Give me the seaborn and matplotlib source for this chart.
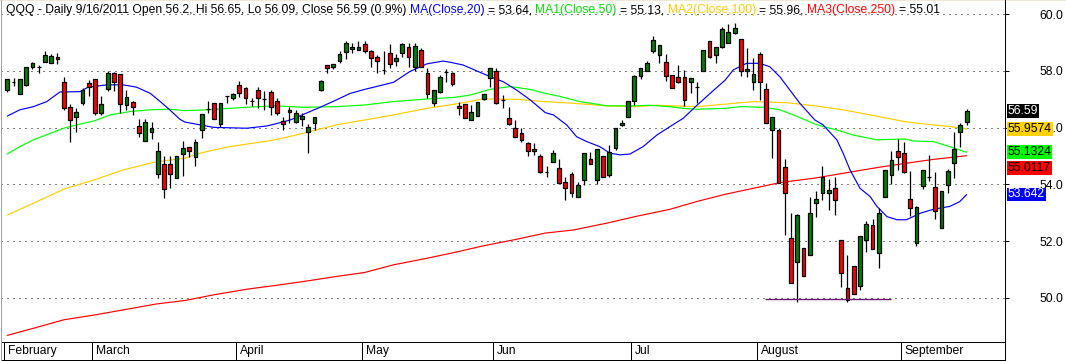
import numpy as np
import pandas as pd
import matplotlib
matplotlib.use("Agg")
import matplotlib.pyplot as plt
import matplotlib.transforms as mtransforms
from matplotlib.lines import Line2D
from matplotlib.patches import Rectangle
from matplotlib.font_manager import FontProperties
import seaborn as sns

# ---------------- data ----------------
opens = [57.33, 57.60, 57.20, 57.50, 58.13, 58.13, 58.33, 58.27, 58.51, 57.60,
         56.72, 56.37, 56.86, 57.56, 57.71, 56.51, 57.35, 57.92, 57.90, 56.79,
         56.90, 56.07, 55.52, 55.86, 54.37, 54.72, 54.72, 54.22, 55.06, 55.33,
         54.96, 55.92, 56.65, 56.86, 56.13, 57.13, 57.04, 57.51, 57.39, 56.94,
         57.33, 57.01, 57.25, 56.94, 56.25, 56.54, 56.21, 56.31, 55.84, 56.16,
         57.33, 58.21, 58.13, 58.36, 58.68, 58.78, 58.74, 58.95, 58.71, 58.48,
         58.04, 58.62, 58.35, 58.62, 58.86, 58.15, 58.74, 57.92, 56.86, 57.25,
         57.98, 57.92, 56.77, 56.84, 56.27, 56.41, 57.01, 57.74, 58.00, 56.98,
         56.33, 55.98, 55.80, 55.45, 55.16, 55.00, 54.43, 54.80, 54.57, 54.10,
         54.36, 53.55, 54.16, 54.89, 54.16, 55.00, 54.33, 55.27, 56.08, 56.39,
         56.95, 57.84, 58.01, 58.72, 58.57, 58.33, 57.86, 57.80, 57.78, 57.60,
         57.43, 58.00, 59.04, 58.56, 58.86, 59.00, 59.33, 59.12, 58.00, 57.60,
         58.59, 57.35, 55.90, 55.92, 54.62, 52.10, 51.25, 51.75, 51.49, 53.33,
         53.69, 53.71, 53.86, 52.04, 50.34, 51.13, 50.43, 52.02, 52.55, 51.57,
         53.55, 54.33, 55.19, 55.10, 53.47, 51.92, 53.94, 54.27, 53.90, 52.47,
         53.98, 54.74, 55.86, 56.20]
highs = [57.71, 57.74, 57.71, 58.13, 58.33, 58.20, 58.71, 58.59, 58.65, 57.78,
         56.82, 56.68, 57.39, 57.68, 57.71, 57.13, 58.00, 57.98, 57.90, 57.33,
         56.95, 56.30, 56.30, 56.21, 55.48, 55.00, 55.00, 55.00, 55.53, 55.33,
         55.59, 56.47, 56.94, 56.86, 56.86, 57.13, 57.24, 57.66, 57.45, 57.06,
         57.42, 57.30, 57.33, 57.04, 56.37, 56.72, 56.63, 56.53, 56.13, 56.37,
         57.68, 58.21, 58.25, 58.72, 59.04, 59.00, 59.04, 59.06, 58.74, 58.57,
         58.71, 58.94, 58.60, 59.00, 59.00, 59.00, 58.80, 58.10, 57.33, 57.86,
         58.06, 57.98, 56.92, 56.84, 56.80, 56.90, 57.18, 58.12, 58.10, 57.16,
         56.72, 56.27, 55.98, 55.51, 55.47, 55.06, 54.63, 55.21, 54.89, 54.27,
         54.45, 54.10, 55.12, 55.15, 55.24, 55.00, 55.39, 55.98, 56.27, 56.94,
         57.86, 58.10, 58.35, 59.25, 58.92, 58.59, 57.86, 58.21, 58.04, 57.74,
         57.62, 58.74, 59.04, 58.86, 59.56, 59.66, 59.68, 59.12, 58.80, 58.45,
         58.68, 57.59, 56.38, 55.98, 54.89, 52.98, 52.95, 51.75, 53.57, 53.76,
         54.63, 54.20, 54.27, 52.04, 51.51, 51.13, 52.16, 52.71, 52.77, 53.16,
         54.49, 55.18, 55.59, 55.48, 54.47, 53.22, 54.52, 55.04, 54.43, 53.77,
         54.54, 55.84, 56.16, 56.65]
lows = [57.27, 57.47, 57.20, 57.47, 58.07, 57.94, 58.33, 58.27, 58.24, 56.62,
        55.48, 55.86, 56.80, 57.13, 56.45, 56.45, 57.30, 57.30, 56.50, 56.62,
        56.45, 55.66, 55.52, 55.59, 54.22, 53.51, 53.86, 54.22, 54.31, 54.98,
        54.63, 55.63, 56.53, 56.30, 56.04, 56.88, 56.99, 57.09, 56.84, 56.77,
        56.70, 56.63, 56.43, 56.43, 55.92, 56.18, 56.15, 56.07, 55.12, 55.90,
        57.30, 57.94, 58.06, 58.27, 58.44, 58.62, 58.74, 58.62, 58.13, 57.92,
        57.90, 58.10, 58.18, 58.50, 58.15, 58.00, 58.15, 57.06, 56.77, 57.21,
        57.62, 57.47, 56.45, 56.33, 56.27, 56.41, 56.98, 57.45, 56.84, 56.68,
        56.09, 55.68, 55.51, 55.01, 55.04, 54.39, 54.25, 54.78, 54.06, 53.45,
        53.55, 53.55, 53.98, 54.72, 54.00, 54.27, 54.25, 55.21, 56.06, 56.39,
        56.80, 57.72, 58.01, 58.62, 58.29, 57.66, 57.39, 57.57, 56.77, 57.24,
        56.88, 58.00, 58.45, 58.27, 58.80, 58.98, 59.29, 57.84, 57.80, 57.33,
        56.97, 56.15, 54.92, 54.06, 52.22, 50.51, 49.86, 50.75, 51.49, 52.85,
        53.45, 53.10, 52.92, 50.39, 49.86, 50.12, 50.28, 51.63, 51.71, 51.06,
        53.55, 54.00, 54.51, 54.39, 52.89, 51.84, 53.83, 54.13, 52.77, 52.47,
        53.71, 54.24, 55.30, 56.09]
closes = [57.71, 57.60, 57.71, 58.13, 58.29, 58.13, 58.57, 58.53, 58.41, 56.70,
          56.27, 56.54, 57.33, 57.45, 56.51, 56.82, 57.94, 57.62, 56.84, 57.09,
          56.72, 55.82, 56.19, 55.98, 55.16, 53.83, 54.36, 55.00, 55.27, 55.16,
          55.48, 56.47, 56.65, 56.30, 56.86, 57.13, 57.18, 57.21, 57.04, 56.94,
          57.04, 57.01, 56.72, 56.51, 56.12, 56.63, 56.51, 56.42, 56.01, 56.37,
          57.65, 58.10, 58.25, 58.60, 58.98, 58.86, 58.84, 58.72, 58.45, 58.35,
          58.04, 58.24, 58.45, 58.94, 58.50, 58.88, 58.15, 57.18, 57.33, 57.80,
          57.98, 57.53, 56.68, 56.33, 56.54, 56.90, 57.18, 58.12, 56.86, 56.98,
          56.13, 55.68, 55.57, 55.16, 55.24, 54.42, 54.43, 55.09, 54.06, 53.86,
          53.69, 53.98, 55.12, 54.72, 55.24, 54.27, 55.13, 55.98, 56.18, 56.94,
          57.82, 58.10, 58.29, 59.09, 58.92, 57.84, 57.39, 57.62, 56.98, 57.74,
          57.43, 58.74, 58.48, 58.86, 59.47, 59.36, 59.51, 58.00, 58.07, 57.90,
          57.60, 56.15, 56.37, 54.06, 53.71, 50.51, 52.92, 50.75, 52.98, 53.47,
          54.25, 53.80, 53.45, 50.86, 49.92, 50.12, 52.16, 52.59, 51.71, 53.00,
          54.49, 54.86, 54.96, 54.45, 53.16, 53.20, 54.52, 54.27, 53.07, 53.77,
          54.47, 55.24, 56.09, 56.59]

holidays = ["2011-02-21", "2011-04-22", "2011-05-30", "2011-07-04", "2011-09-05"]
first_day, last_day = "2011-02-08", "2011-09-16"
month_labels = {2: "February", 3: "March", 4: "April", 5: "May", 6: "Jun",
                7: "Jul", 8: "August", 9: "September"}

# moving averages (candle index, value)
ma20_idx = [0, 2.0, 4.15, 6.3, 8.4, 11.6, 12.9, 15.9, 18.5, 20.6, 22.8, 24.4, 25.9, 27.5, 28.3,
            30.7, 32.9, 38.2, 41.4, 42.7, 45.1, 49.9, 52.5, 54.7, 57.0, 59.4, 61.6, 64.2, 66.9,
            69.5, 70.6, 72.7, 74.9, 77.0, 79.1, 81.2, 83.4, 85.8, 87.1, 89.2, 90.8, 92.4, 94.5,
            96.1, 97.7, 99.3, 101.4, 103.6, 105.7, 107.8, 109.9, 112.1, 114.5, 115.8, 117.9,
            120.0, 121.6, 123.2, 124.8, 126.4, 128.8, 130.1, 132.3, 133.3, 134.4, 136.0, 137.6,
            138.7, 140.3, 141.9, 143.4, 145.6, 147.7, 150.3, 151.9, 153.0]
ma20_val = [56.41, 56.63, 56.74, 56.92, 57.26, 57.27, 57.43, 57.51, 57.51, 57.43, 57.21, 56.92,
            56.63, 56.30, 56.20, 56.10, 56.01, 55.98, 56.06, 56.13, 56.27, 56.72, 56.98, 57.21,
            57.35, 57.48, 57.60, 57.98, 58.25, 58.35, 58.31, 58.21, 58.00, 57.80, 57.62, 57.33,
            56.98, 56.53, 56.45, 56.10, 55.68, 55.51, 55.33, 55.10, 55.04, 55.07, 55.33, 55.74,
            56.04, 56.33, 56.77, 57.21, 57.68, 58.04, 58.27, 58.27, 58.15, 57.80, 57.33, 56.86,
            56.27, 56.10, 55.57, 55.10, 54.51, 53.86, 53.57, 53.22, 52.86, 52.75, 52.75, 52.98,
            53.12, 53.22, 53.39, 53.64]
ma50_idx = [0, 2.0, 4.15, 6.9, 9.0, 11.7, 13.9, 16.4, 19.6, 22.8, 25.9, 28.3, 31.8, 35.5, 38.2,
            42.7, 47.2, 52.5, 57.0, 61.6, 66.9, 71.4, 73.8, 77.0, 80.2, 83.4, 85.8, 88.2, 91.3,
            95.6, 100.1, 102.5, 105.7, 107.8, 109.9, 114.5, 116.9, 120.6, 123.2, 125.4, 128.8,
            130.1, 132.3, 134.9, 138.7, 143.2, 144.5, 147.7, 150.3, 153.0]
ma50_val = [55.07, 55.33, 55.57, 55.80, 55.98, 56.13, 56.24, 56.45, 56.57, 56.63, 56.65, 56.60,
            56.63, 56.68, 56.72, 56.77, 56.72, 56.74, 56.80, 56.92, 57.01, 57.07, 57.15, 57.35,
            57.45, 57.35, 57.21, 57.10, 56.92, 56.77, 56.77, 56.79, 56.74, 56.68, 56.65, 56.68,
            56.74, 56.72, 56.63, 56.45, 56.13, 56.04, 55.92, 55.74, 55.57, 55.60, 55.53, 55.51,
            55.33, 55.13]
ma100_idx = [0, 4.15, 9.0, 13.9, 18.5, 23.8, 28.3, 30.7, 35.5, 42.7, 47.2, 52.5, 57.0, 61.6,
             66.9, 71.4, 75.9, 81.2, 85.8, 90.3, 95.6, 100.1, 103.6, 109.9, 114.5, 119.0, 124.3,
             128.8, 133.3, 137.6, 143.2, 145.0, 150.3, 153.0]
ma100_val = [52.92, 53.33, 53.83, 54.16, 54.51, 54.80, 54.92, 55.10, 55.33, 55.57, 55.80, 56.10,
             56.27, 56.45, 56.68, 56.83, 57.01, 57.00, 56.92, 56.86, 56.77, 56.74, 56.79, 56.74,
             56.83, 56.92, 56.88, 56.77, 56.63, 56.45, 56.21, 56.16, 56.04, 55.96]
ma250_idx = [0, 4.15, 9.0, 13.9, 18.5, 23.8, 28.3, 32.9, 38.2, 42.7, 47.2, 52.5, 57.0, 61.6,
             66.9, 71.4, 75.9, 81.2, 85.8, 90.3, 95.6, 100.1, 105.7, 109.9, 114.5, 119.0, 123.2,
             128.8, 133.3, 138.7, 143.2, 147.7, 153.0]
ma250_val = [48.67, 48.92, 49.22, 49.39, 49.57, 49.78, 49.90, 50.10, 50.30, 50.43, 50.57, 50.75,
             50.89, 51.16, 51.39, 51.60, 51.83, 52.06, 52.28, 52.39, 52.63, 52.86, 53.12, 53.39,
             53.65, 53.86, 54.06, 54.22, 54.39, 54.59, 54.74, 54.88, 55.01]

support_level = 49.95
support_from, support_to = 120.8, 140.9

y_ticks = [50, 52, 54, 56, 58, 60]
box_values = [56.59, 55.9574, 55.1324, 55.0117, 53.642]
box_texts = ["56.59", "55.9574", "55.1324", "55.0117", "53.642"]
box_faces = ["#000000", "#ffd200", "#00ff00", "#ff0000", "#0000ff"]
box_fg = ["white", "black", "black", "black", "white"]

title_parts = [
    ("QQQ - Daily 9/16/2011 Open 56.2, Hi 56.65, Lo 56.09, Close 56.59 (0.9%)", "black"),
    ("MA(Close,20)", "#0000ff"), ("= 53.64,", "black"),
    ("MA1(Close,50)", "#00e000"), ("= 55.13,", "black"),
    ("MA2(Close,100)", "#ffcc00"), ("= 55.96,", "black"),
    ("MA3(Close,250)", "#ff0000"), ("= 55.01", "black"),
]

# ---------------- style ----------------
sns.set_style("white")
plt.rcParams["font.family"] = ["Liberation Sans", "DejaVu Sans"]

W, H = 1066, 361
fig = plt.figure(figsize=(W / 100, H / 100), dpi=100, facecolor="white")
ax = fig.add_axes([1 / W, (H - 342) / H, 1003 / W, 341 / H])
ax.set_facecolor("white")

dates = pd.bdate_range(first_day, last_day)
dates = dates[~dates.isin(pd.to_datetime(holidays))]
n = len(closes)
df = pd.DataFrame({"idx": np.arange(n), "date": dates[:n], "o": opens, "h": highs,
                   "l": lows, "c": closes})

x_lo, x_hi = -1.005, 158.96
ax.set_xlim(x_lo, x_hi)
ax.set_ylim(48.437, 60.469)

# dotted grid
for v in y_ticks:
    ax.axhline(v, color="black", lw=0.72, linestyle=(0, (1, 5)), zorder=1)

# moving averages
ma_sets = [(ma250_idx, ma250_val, "#ff0000"), (ma100_idx, ma100_val, "#ffcc00"),
           (ma50_idx, ma50_val, "#00ff00"), (ma20_idx, ma20_val, "#0000ff")]
for xi, yv, col in ma_sets:
    sns.lineplot(x=xi, y=yv, ax=ax, color=col, linewidth=0.85, estimator=None,
                 sort=True, zorder=2)

# candles
up = df["c"] >= df["o"]
ax.vlines(df["idx"], df["l"], df["h"], color="black", lw=0.9, zorder=3)
ax.bar(df["idx"], df["c"] - df["o"], bottom=df["o"], width=0.6,
       color=np.where(up, "#008000", "#ff0000"), edgecolor="black", linewidth=0.9, zorder=4)

# support line
ax.hlines(support_level, support_from, support_to, color="#6a1b6a", lw=1.0, zorder=5)

# axes / spines
ax.set_xticks([])
ax.yaxis.tick_right()
ax.set_yticks(y_ticks)
ax.set_yticklabels([f"{v:.1f}" for v in y_ticks])
ax.tick_params(axis="y", length=3.6, width=0.72, pad=21.6, labelsize=8.7,
               colors="black", right=True, left=False)
ax.set_xlabel("")
ax.set_ylabel("")
for s in ["top", "right"]:
    ax.spines[s].set_visible(False)
ax.spines["left"].set_color("#a0a0a0")
ax.spines["left"].set_linewidth(0.72)
ax.spines["bottom"].set_color("black")
ax.spines["bottom"].set_linewidth(0.72)

# right vertical border full height
fig.add_artist(Line2D([1004.5 / W, 1004.5 / W], [0, 1], color="black", lw=0.72))
# lower border of the month strip
fig.add_artist(Line2D([1 / W, 1004.5 / W], [(H - 359.5) / H] * 2, color="black", lw=0.72))
fig.add_artist(Line2D([0.5 / W, 0.5 / W], [0, 1], color="#a0a0a0", lw=0.72))
fig.add_artist(Rectangle((0, (H - 1) / H), 1, 1 / H, transform=fig.transFigure,
                         facecolor="#ece9d8", edgecolor="none"))

# month separators & labels
strip = mtransforms.blended_transform_factory(ax.transData, fig.transFigure)
month_first = df.groupby(df["date"].dt.month)["idx"].min()
for m, fi in month_first.items():
    xb = fi - 0.5
    if xb > x_lo:
        ax.add_line(Line2D([xb, xb], [(H - 359.5) / H, (H - 342) / H], transform=strip,
                           color="black", lw=0.72, clip_on=False))
    xl = max(xb, x_lo)
    ax.annotate(month_labels[m], xy=(xl, 0), xycoords=("data", "axes fraction"),
                xytext=(2.9, -6.3), textcoords="offset points", ha="left", va="center",
                fontsize=8.7, color="black", annotation_clip=False)

# value boxes on the right axis with simple anti-overlap
fig.canvas.draw()
order = np.argsort(box_values)[::-1]
prev_px = None
for k in order:
    py = ax.transData.transform((0, box_values[k]))[1]
    if prev_px is not None and py > prev_px - 16:
        py = prev_px - 16
    prev_px = py
    yd = ax.transData.inverted().transform((0, py))[1]
    ax.annotate(box_texts[k], xy=(1, yd), xycoords=("axes fraction", "data"),
                xytext=(2.6, 0), textcoords="offset points", ha="left", va="center",
                fontsize=8.8, color=box_fg[k], annotation_clip=False, zorder=10,
                bbox=dict(boxstyle="square,pad=0.08", fc=box_faces[k], ec="none"))

# multi-coloured title
renderer = fig.canvas.get_renderer()
fp = FontProperties(family=["Liberation Sans", "DejaVu Sans"], size=8.7)


def text_width(s):
    w1, _, _ = renderer.get_text_width_height_descent(s + "x", fp, ismath=False)
    w2, _, _ = renderer.get_text_width_height_descent("x", fp, ismath=False)
    return w1 - w2


x0 = 6.0
prefix = ""
for i, (txt, col) in enumerate(title_parts):
    xpos = x0 + (text_width(prefix) if prefix else 0.0)
    fig.text(xpos / W, (H - 13.3) / H, txt, color=col, fontproperties=fp,
             ha="left", va="baseline")
    prefix = prefix + txt + " "

fig.savefig("out.png", dpi=100, facecolor="white")
